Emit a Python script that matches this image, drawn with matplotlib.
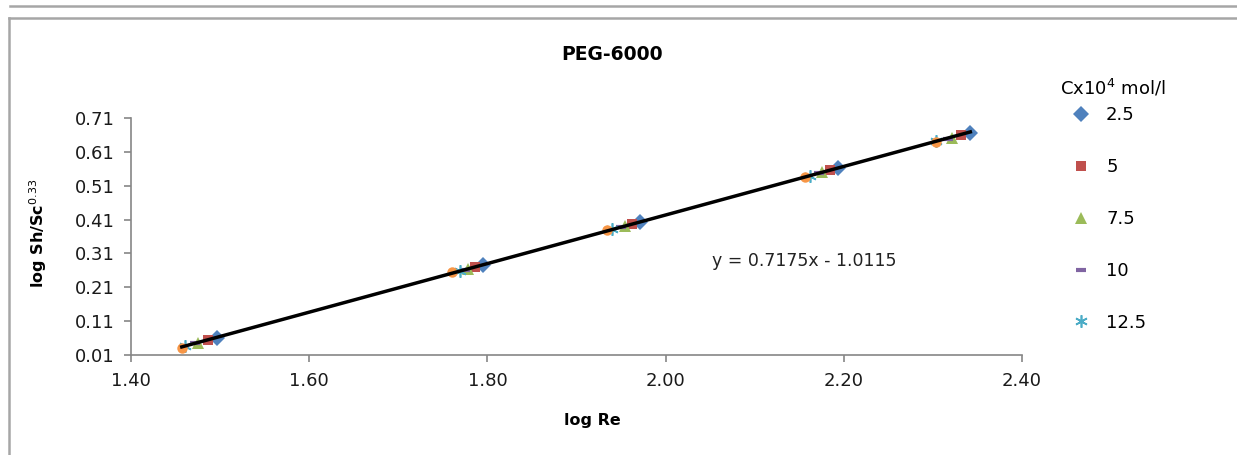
import matplotlib
matplotlib.use("Agg")
import matplotlib.pyplot as plt
from matplotlib.lines import Line2D
import numpy as np

title = "PEG-6000"
legend_title = "Cx10$^4$ mol/l"
series_labels = ["2.5", "5", "7.5", "10", "12.5", None]
x_vals = [
    [1.496, 1.795, 1.971, 2.193, 2.342],
    [1.486, 1.786, 1.962, 2.185, 2.332],
    [1.475, 1.778, 1.954, 2.176, 2.321],
    [1.472, 1.775, 1.950, 2.172, 2.317],
    [1.461, 1.769, 1.940, 2.162, 2.304],
    [1.457, 1.760, 1.934, 2.156, 2.304],
]
y_vals = [
    [0.060, 0.276, 0.404, 0.562, 0.666],
    [0.054, 0.270, 0.397, 0.556, 0.660],
    [0.046, 0.264, 0.391, 0.550, 0.652],
    [0.044, 0.262, 0.388, 0.547, 0.649],
    [0.037, 0.258, 0.381, 0.540, 0.642],
    [0.030, 0.254, 0.378, 0.536, 0.640],
]
slope, intercept = 0.7175, -1.0115
x_ticks = [1.40, 1.60, 1.80, 2.00, 2.20, 2.40]
y_ticks = [0.01, 0.11, 0.21, 0.31, 0.41, 0.51, 0.61, 0.71]

colors = ["#4F81BD", "#C0504D", "#9BBB59", "#8064A2", "#4BACC6", "#F79646"]
markers = ["D", "s", "^", "_", (6, 2, 0), "o"]
msizes = [8, 7.5, 8, 7, 9, 7.5]

plt.rcParams["font.family"] = "DejaVu Sans"
fig = plt.figure(figsize=(12.37, 4.55), dpi=100)
W, H = 1237, 455
ax = fig.add_axes([131 / W, 1 - 355 / H, (1022 - 131) / W, (355 - 118) / H])

for i in range(6):
    kw = dict(color=colors[i], marker=markers[i], linestyle="none", markersize=msizes[i],
              label=series_labels[i] if series_labels[i] else "_nolegend_", zorder=3)
    if markers[i] == "_":
        kw["markeredgewidth"] = 3
    elif isinstance(markers[i], tuple):
        kw["markeredgewidth"] = 1.2
    else:
        kw["markeredgewidth"] = 0
    ax.plot(x_vals[i], y_vals[i], **kw)

allx = np.concatenate([np.array(v) for v in x_vals])
xl = np.array([allx.min(), allx.max()])
ax.plot(xl, slope * xl + intercept, color="black", linewidth=2.5, zorder=4)

ax.text(2.156, 0.288, "y = 0.7175x - 1.0115", ha="center", va="center",
        fontsize=12.5, color="#222222")

ax.set_xlim(1.40, 2.40)
ax.set_ylim(0.01, 0.71)
ax.set_xticks(x_ticks)
ax.set_xticklabels([f"{t:.2f}" for t in x_ticks])
ax.set_yticks(y_ticks)
ax.set_yticklabels([f"{t:.2f}" for t in y_ticks])
for s in ["top", "right"]:
    ax.spines[s].set_visible(False)
for s in ["left", "bottom"]:
    ax.spines[s].set_color("#868686")
    ax.spines[s].set_linewidth(1.2)
ax.tick_params(direction="out", length=5, color="#868686", width=1.2,
               labelsize=13, pad=7, labelcolor="#1a1a1a")

fig.text(612 / W, 1 - 55 / H, title, ha="center", va="center",
         fontsize=13.5, fontweight="bold")
fig.text(592 / W, 1 - 420 / H, "log Re", ha="center", va="center",
         fontsize=11.5, fontweight="bold")
fig.text(38 / W, 1 - 233 / H, "log Sh/Sc$^{0.33}$", ha="center", va="center",
         rotation=90, fontsize=11.5, fontweight="bold")

handles, labels = ax.get_legend_handles_labels()
leg = fig.legend(handles, labels, loc="upper left",
                 bbox_to_anchor=(1070 / W, 1 - 106 / H), frameon=False,
                 fontsize=13, labelspacing=1.88, borderpad=0, borderaxespad=0,
                 handletextpad=0.8, handlelength=1.2)
fig.text(1113 / W, 1 - 88 / H, legend_title, ha="center", va="center", fontsize=13)

# outer frame lines
gray = "#a6a6a6"
fig.add_artist(Line2D([10 / W, 1], [1 - 6 / H, 1 - 6 / H], color=gray, linewidth=1.8))
fig.add_artist(Line2D([9 / W, 1], [1 - 18 / H, 1 - 18 / H], color=gray, linewidth=1.8))
fig.add_artist(Line2D([9 / W, 9 / W], [1 - 18 / H, 0], color=gray, linewidth=1.8))

fig.savefig("out.png", dpi=100)
